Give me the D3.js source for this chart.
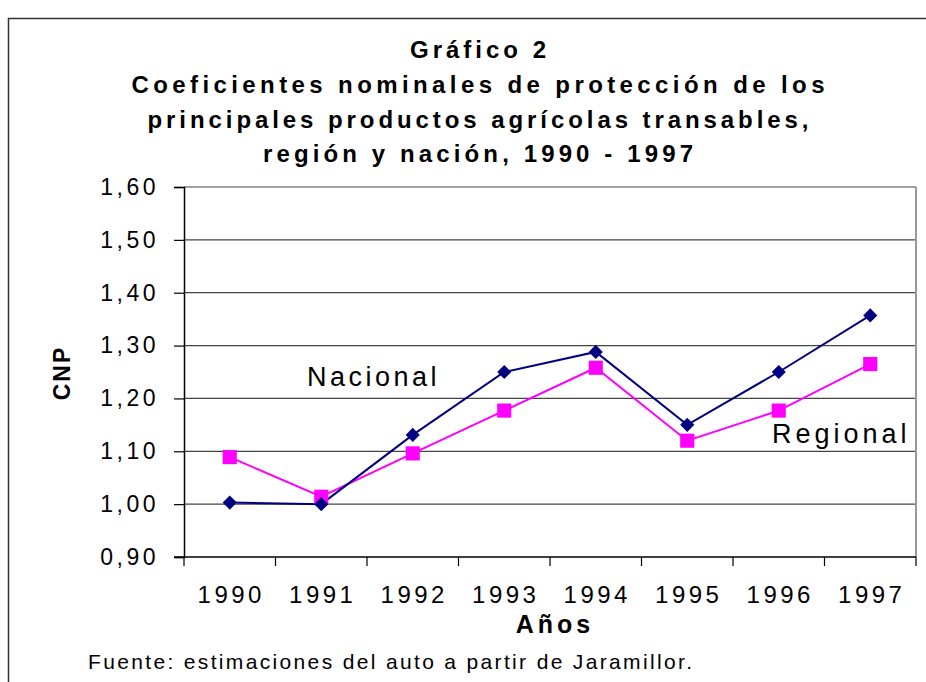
<!DOCTYPE html>
<html>
<head>
<meta charset="utf-8">
<script src="https://cdn.jsdelivr.net/npm/d3@7"></script>
<style>
  body { margin: 0; background: #fff; }
  svg { display: block; font-family: "Liberation Sans", Arial, sans-serif; }
</style>
</head>
<body>
<div id="chart"></div>
<script>
// data
var years = ['1990', '1991', '1992', '1993', '1994', '1995', '1996', '1997'];
var nacional = [1.003, 1.000, 1.131, 1.250, 1.288, 1.150, 1.250, 1.357];
var regional = [1.089, 1.014, 1.096, 1.177, 1.258, 1.120, 1.177, 1.265];
var yTicks = [0.9, 1.0, 1.1, 1.2, 1.3, 1.4, 1.5, 1.6];
var titleLines = ['Gráfico 2',
    'Coeficientes nominales de protección de los',
    'principales productos agrícolas transables,',
    'región y nación, 1990 - 1997'];

var W = 926, H = 682;
var plot = {left: 184, right: 916, top: 187, bottom: 557};

var svg = d3.select('#chart').append('svg')
    .attr('width', W)
    .attr('height', H);

// outer frame (runs off the right and bottom edges)
svg.append('rect')
    .attr('x', 8.5).attr('y', 18.5)
    .attr('width', W + 20).attr('height', H + 20)
    .attr('fill', 'none')
    .attr('stroke', '#333')
    .attr('stroke-width', 1.5);

// title
var titleWidths = [136, 693, 661, 430];
var titleY = [58, 93, 128, 162];
svg.append('g').selectAll('text')
    .data(titleLines)
    .enter()
    .append('text')
        .attr('x', 478)
        .attr('y', function(d, i){ return titleY[i]; })
        .attr('text-anchor', 'middle')
        .attr('textLength', function(d, i){ return titleWidths[i]; })
        .attr('lengthAdjust', 'spacing')
        .style('font-size', '24px')
        .style('font-weight', 'bold')
        .text(function(d){ return d; });

// scales
var xScale = d3.scaleBand()
    .domain(years)
    .range([plot.left, plot.right]);
var yScale = d3.scaleLinear()
    .domain([0.9, 1.6])
    .range([plot.bottom, plot.top]);

// gridlines
svg.append('g').selectAll('line')
    .data(yTicks.slice(1))
    .enter()
    .append('line')
        .attr('x1', plot.left)
        .attr('x2', plot.right)
        .attr('y1', function(d){ return yScale(d); })
        .attr('y2', function(d){ return yScale(d); })
        .attr('stroke', '#444')
        .attr('stroke-width', 1.2);

// plot area border on right
svg.append('line')
    .attr('x1', plot.right).attr('x2', plot.right)
    .attr('y1', plot.top).attr('y2', plot.bottom)
    .attr('stroke', '#999')
    .attr('stroke-width', 2);

// y axis
var yAxis = d3.axisLeft(yScale)
    .tickValues(yTicks)
    .tickSize(10)
    .tickPadding(15)
    .tickFormat(function(d){ return d3.format('.2f')(d).replace('.', ','); });
var yg = svg.append('g')
    .attr('transform', 'translate(' + plot.left + ',0)')
    .call(yAxis);
yg.select('.domain').attr('stroke', '#000').attr('stroke-width', 1.5);
yg.selectAll('.tick line').attr('stroke', '#000').attr('stroke-width', 1.2);
yg.selectAll('.tick text')
    .style('font-size', '23px')
    .style('letter-spacing', '3.5px')
    .attr('fill', '#000')
    .attr('font-family', null);

// x axis
var xTicks = d3.range(years.length + 1);
var xEdge = d3.scaleLinear()
    .domain([0, years.length])
    .range([plot.left, plot.right]);
var xg = svg.append('g')
    .attr('transform', 'translate(0,' + plot.bottom + ')');
xg.append('line')
    .attr('x1', plot.left - 10).attr('x2', plot.right)
    .attr('stroke', '#000')
    .attr('stroke-width', 1.5);
xg.selectAll('.xtick')
    .data(xTicks)
    .enter()
    .append('line')
        .attr('class', 'xtick')
        .attr('x1', function(d){ return xEdge(d); })
        .attr('x2', function(d){ return xEdge(d); })
        .attr('y1', 0).attr('y2', 9)
        .attr('stroke', '#000')
        .attr('stroke-width', 1.2);
xg.selectAll('.xlabel')
    .data(years)
    .enter()
    .append('text')
        .attr('class', 'xlabel')
        .attr('x', function(d){ return xScale(d) + xScale.bandwidth() / 2 + 1.5; })
        .attr('y', 46)
        .attr('text-anchor', 'middle')
        .style('font-size', '24px')
        .style('letter-spacing', '3.5px')
        .text(function(d){ return d; });

// axis titles
svg.append('text')
    .attr('x', 555).attr('y', 633)
    .attr('text-anchor', 'middle')
    .style('font-size', '25px')
    .style('font-weight', 'bold')
    .style('letter-spacing', '4px')
    .text('Años');
svg.append('text')
    .attr('transform', 'translate(70,373) rotate(-90)')
    .attr('text-anchor', 'middle')
    .style('font-size', '23px')
    .style('font-weight', 'bold')
    .style('letter-spacing', '2px')
    .text('CNP');

// lines
var line = d3.line()
    .x(function(d, i){ return xScale(years[i]) + xScale.bandwidth() / 2; })
    .y(function(d){ return yScale(d); });

svg.append('path')
    .datum(regional)
    .attr('d', line)
    .attr('fill', 'none')
    .attr('stroke', '#ff00ff')
    .attr('stroke-width', 2);
svg.append('path')
    .datum(nacional)
    .attr('d', line)
    .attr('fill', 'none')
    .attr('stroke', '#000080')
    .attr('stroke-width', 2);

// markers
svg.append('g').selectAll('path')
    .data(regional)
    .enter()
    .append('path')
        .attr('d', d3.symbol().type(d3.symbolSquare).size(200))
        .attr('transform', function(d, i){
            return 'translate(' + (xScale(years[i]) + xScale.bandwidth() / 2) + ',' + yScale(d) + ')';
        })
        .attr('fill', '#ff00ff');
svg.append('g').selectAll('path')
    .data(nacional)
    .enter()
    .append('path')
        .attr('d', d3.symbol().type(d3.symbolSquare).size(100))
        .attr('transform', function(d, i){
            return 'translate(' + (xScale(years[i]) + xScale.bandwidth() / 2) + ',' + yScale(d) + ') rotate(45)';
        })
        .attr('fill', '#000080');

// series labels
svg.append('text')
    .attr('x', 307).attr('y', 386)
    .style('font-size', '27px')
    .style('letter-spacing', '3.5px')
    .text('Nacional');
svg.append('text')
    .attr('x', 772).attr('y', 443)
    .style('font-size', '27px')
    .style('letter-spacing', '4px')
    .text('Regional');

// source note
svg.append('text')
    .attr('x', 88).attr('y', 669)
    .attr('textLength', 604)
    .attr('lengthAdjust', 'spacing')
    .style('font-size', '21px')
    .text('Fuente: estimaciones del auto a partir de Jaramillor.');
</script>
</body>
</html>
